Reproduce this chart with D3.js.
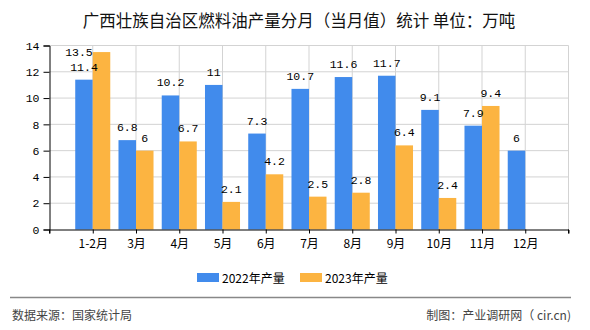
<!DOCTYPE html>
<html><head><meta charset="utf-8">
<script src="https://cdn.jsdelivr.net/npm/d3@7"></script>
<style>
html,body{margin:0;padding:0;background:#fff;}
svg{display:block;}
</style></head>
<body>
<svg id="chart" width="590" height="330"></svg>
<script>
const categories = ["1-2月","3月","4月","5月","6月","7月","8月","9月","10月","11月","12月"];
const values2022 = [11.4,6.8,10.2,11,7.3,10.7,11.6,11.7,9.1,7.9,6];
const values2023 = [13.5,6,6.7,2.1,4.2,2.5,2.8,6.4,2.4,9.4,null];
const seriesNames = ["2022年产量","2023年产量"];
const yTicks = [0,2,4,6,8,10,12,14];
const titleText = "广西壮族自治区燃料油产量分月（当月值）统计 单位：万吨";
const sourceText = "数据来源：国家统计局";
const creditText = "制图：产业调研网（ cir.cn)";

const colors = ["#418bec","#fcb441"];
const cjk = "'Noto Sans CJK SC','Noto Sans',sans-serif";
const mono = "'Liberation Mono','DejaVu Sans Mono',monospace";

const svg = d3.select("#chart");
const L = 49.5, R = 568.5, T = 45.5, B = 229.5;

const x = d3.scalePoint().domain(categories).range([L, R]).padding(1);
const step = x.step();
const y = d3.scaleLinear().domain([0,14]).range([B, T]);
const bw = step * 0.405;

// horizontal gridlines
svg.append("g").selectAll("line").data(yTicks.filter(d=>d>0)).join("line")
  .attr("x1", L).attr("x2", R).attr("y1", d=>y(d)).attr("y2", d=>y(d))
  .attr("stroke", "#d3d3d3").attr("stroke-width", 1);
// vertical gridlines
const vPos = categories.map(c=>x(c)).concat([R]);
svg.append("g").selectAll("line").data(vPos).join("line")
  .attr("x1", d=>d).attr("x2", d=>d).attr("y1", T).attr("y2", B)
  .attr("stroke", "#d3d3d3").attr("stroke-width", 1);

// bars
const series = [values2022, values2023];
series.forEach((vals, si) => {
  const g = svg.append("g");
  const data = categories.map((c,i)=>({c, v: vals[i]})).filter(d=>d.v!=null);
  g.selectAll("rect").data(data).join("rect")
    .attr("x", d => si===0 ? x(d.c) - bw : x(d.c))
    .attr("width", bw)
    .attr("y", d => y(d.v))
    .attr("height", d => B - y(d.v))
    .attr("fill", colors[si]);
});

// value labels
series.forEach((vals, si) => {
  const g = svg.append("g");
  const data = categories.map((c,i)=>({c, v: vals[i]})).filter(d=>d.v!=null);
  g.selectAll("text").data(data).join("text")
    .each(function(d){
      const top = y(d.v);
      const bx = si===0 ? x(d.c) - bw : x(d.c);
      const t = d3.select(this);
      if (top - 9 - 8 < T) {
        t.attr("x", bx).attr("y", top + 4).attr("text-anchor","end");
      } else {
        t.attr("x", bx + bw/2).attr("y", top - 9).attr("text-anchor","middle");
      }
    })
    .attr("font-family", mono).attr("font-size", 11.5).attr("fill", "#000")
    .text(d => d.v);
});

// axes
const yAxis = d3.axisLeft(y).tickValues(yTicks).tickSize(6).tickPadding(4).tickFormat(d3.format("d"));
const gy = svg.append("g").attr("transform", `translate(${L},0)`).call(yAxis);
gy.select(".domain").attr("stroke","#000");
gy.selectAll(".tick line").attr("stroke","#000");
gy.selectAll("text").attr("font-family", mono).attr("font-size", 11.5).attr("fill","#000");

const xAxis = d3.axisBottom(x).tickSize(4).tickPadding(4).tickSizeOuter(4);
const gx = svg.append("g").attr("transform", `translate(0,${B})`).call(xAxis);
gx.select(".domain").attr("stroke","#000");
gx.selectAll(".tick line").attr("stroke","#000");
gx.selectAll("text").attr("font-family", cjk).attr("font-size", 12).attr("fill","#000").attr("dy","0.9em");
gx.append("line").attr("x1",L).attr("x2",L).attr("y1",0).attr("y2",4).attr("stroke","#000");
gx.append("line").attr("x1",R).attr("x2",R).attr("y1",0).attr("y2",4).attr("stroke","#000");

// title
svg.append("text").attr("x", 299).attr("y", 27).attr("text-anchor","middle")
  .attr("font-family", cjk).attr("font-size", 16.5).attr("fill","#111")
  .text(titleText);

// legend
const legX = [197, 300];
seriesNames.forEach((n,i)=>{
  svg.append("rect").attr("x", legX[i]).attr("y", 273).attr("width", 22).attr("height", 9).attr("fill", colors[i]);
  svg.append("text").attr("x", legX[i]+25).attr("y", 282.5).attr("font-family", cjk).attr("font-size", 12).attr("fill","#000").text(n);
});

// footer
svg.append("line").attr("x1", 10).attr("x2", 571).attr("y1", 297.5).attr("y2", 297.5).attr("stroke","#888").attr("stroke-width",1.5);
svg.append("text").attr("x", 12).attr("y", 320).attr("font-family", cjk).attr("font-size", 12).attr("fill","#444").text(sourceText);
svg.append("text").attr("x", 571).attr("y", 320).attr("text-anchor","end").attr("font-family", cjk).attr("font-size", 12).attr("fill","#444").text(creditText);
</script>
</body></html>
